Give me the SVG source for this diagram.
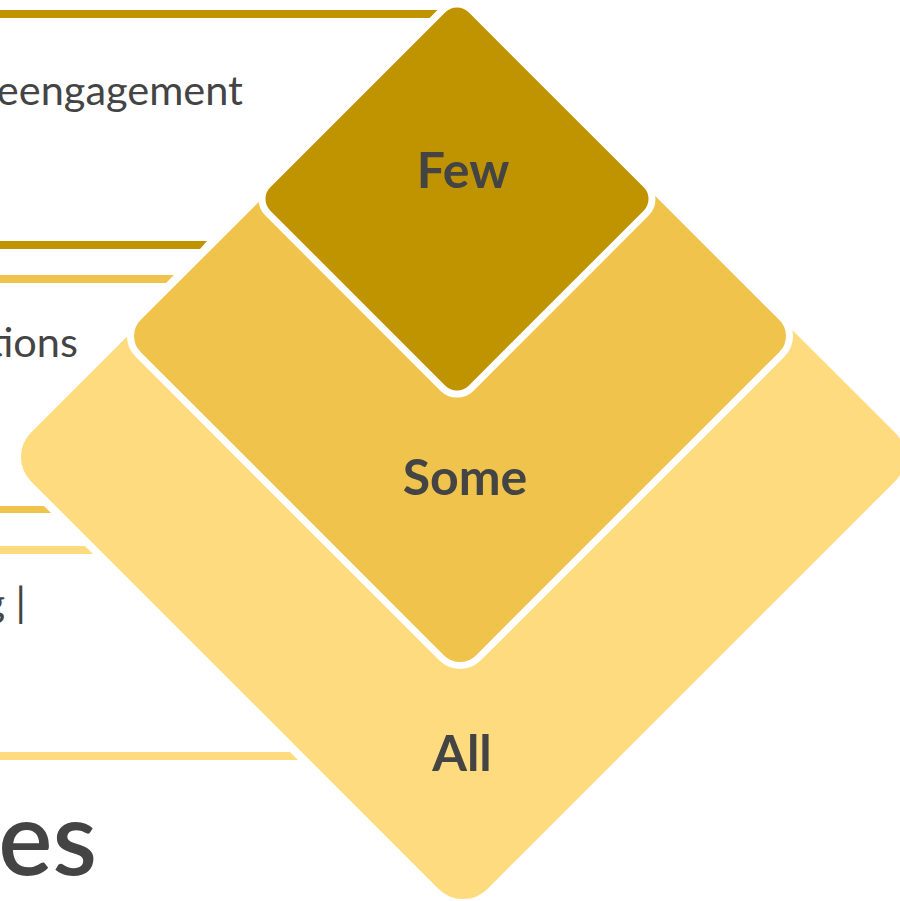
<svg xmlns="http://www.w3.org/2000/svg" width="900" height="901" viewBox="0 0 900 901">
<style>
.dark{fill:#C09300}
.mid{fill:#F0C44C}
.light{fill:#FDDB7E}
.side{font-family:Lato,"Open Sans","Liberation Sans",sans-serif;fill:#444444;font-size:41.5px;text-anchor:end}
.big{font-family:Lato,"Open Sans","Liberation Sans",sans-serif;font-weight:600;fill:#444444;font-size:102px;text-anchor:end}
.lbl{font-family:Lato,"Liberation Sans",sans-serif;font-weight:bold;fill:#444444;font-size:50px;text-anchor:middle}
.dia{stroke:#FFFFFF;stroke-width:7}
</style>
<rect width="900" height="901" fill="#FFFFFF"/>
<g id="background">
<polygon class="dark" points="0,10 438,10 430,18 0,18"/>
<polygon class="dark" points="0,241 207,241 200,249 0,249"/>
<polygon class="mid" points="0,275 174,275 166,283 0,283"/>
<polygon class="mid" points="0,506 44,506 51,513 0,513"/>
<polygon class="light" points="0,546 85,546 93,554 0,554"/>
<polygon class="light" points="0,752 290,752 298,760 0,760"/>
<text class="side" x="243" y="105">eengagement</text>
<text class="side" x="78" y="357">tions</text>
<text class="side" x="26" y="617">g |</text>
<text class="big" x="97" y="875">es</text>
</g>
<g id="node-all">
<rect class="light dia" x="136.85" y="130.85" width="652.3" height="652.3" rx="38" transform="rotate(45 463 457)"/>
<text class="lbl" x="462" y="771">All</text>
</g>
<g id="node-some">
<rect class="mid dia" x="219.4" y="95.4" width="481.2" height="481.2" rx="26" transform="rotate(45 460 336)"/>
<text class="lbl" x="465" y="495">Some</text>
</g>
<g id="node-few">
<rect class="dark dia" x="313.25" y="55.25" width="287.5" height="287.5" rx="20" transform="rotate(45 457 199)"/>
<text class="lbl" x="463" y="188">Few</text>
</g>
<g id="connectors"></g>
</svg>
